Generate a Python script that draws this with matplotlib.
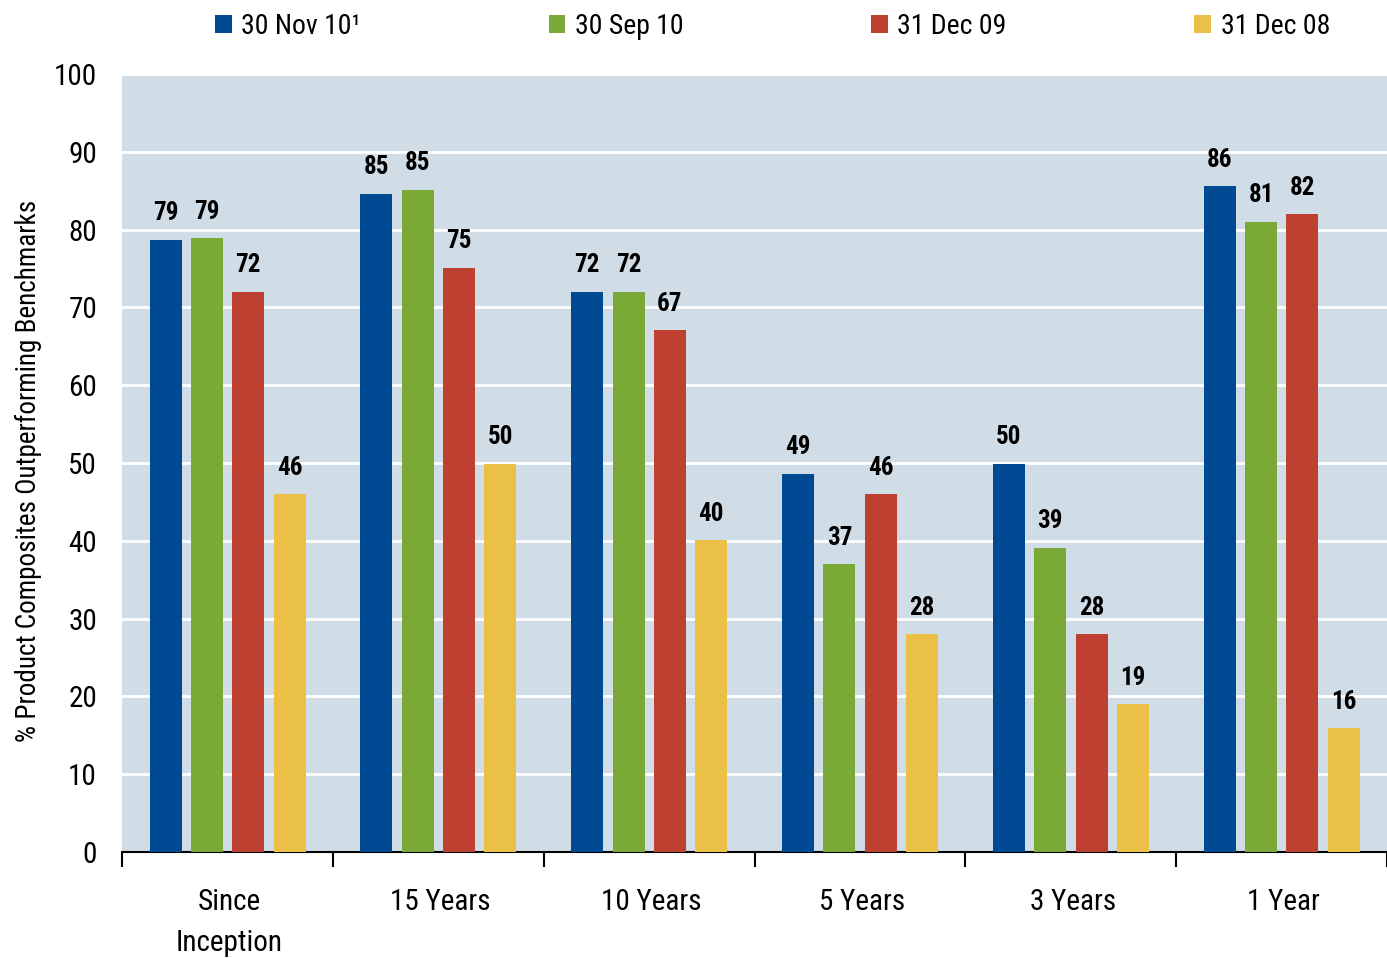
import matplotlib.pyplot as plt
import numpy as np

plt.rcParams['font.family'] = ['Roboto Condensed', 'Liberation Sans', 'DejaVu Sans']

categories = ['Since\nInception', '15 Years', '10 Years', '5 Years', '3 Years', '1 Year']
series_names = ['30 Nov 10\u00b9', '30 Sep 10', '31 Dec 09', '31 Dec 08']
nov10 = [78.7, 84.6, 72.0, 48.6, 49.9, 85.6]
sep10 = [78.9, 85.1, 72.0, 37.0, 39.1, 81.0]
dec09 = [72.0, 75.1, 67.1, 46.0, 28.0, 82.0]
dec08 = [46.0, 49.9, 40.1, 28.0, 19.0, 15.9]
colors = ['#004A93', '#7AA937', '#BE4030', '#EBC046']

fig = plt.figure(figsize=(13.87, 9.58), dpi=100)
ax = fig.add_axes([122 / 1387, 106 / 958, 1 - 122 / 1387, 778 / 958])
ax.set_facecolor('#D0DDE6')

x = np.arange(len(categories))
width = 0.152
offsets = [0.207, 0.403, 0.599, 0.795]
for vals, name, col, off in zip([nov10, sep10, dec09, dec08], series_names, colors, offsets):
    bars = ax.bar(x + off, vals, width, color=col, label=name, zorder=3)
    for b, v in zip(bars, vals):
        ax.annotate(f'{v:.0f}', (b.get_x() + b.get_width() / 2, v),
                    xytext=(0, 14), textcoords='offset points',
                    ha='center', va='baseline', fontsize=18, fontweight='bold')

ax.set_ylim(0, 100)
ax.set_xlim(0, (1387 - 122) / 214)
ax.set_yticks(range(0, 101, 10))
ax.yaxis.grid(True, color='white', linewidth=2, zorder=1)
ax.tick_params(axis='y', length=0, pad=18, labelsize=21)

ax.set_xticks(range(0, 7))
ax.set_xticklabels([])
ax.tick_params(axis='x', which='major', length=11, width=1.5, direction='out')
ax.set_xticks(x + 0.51, minor=True)
ax.set_xticklabels(categories, minor=True, fontsize=21, linespacing=1.58, va='top')
ax.tick_params(axis='x', which='minor', length=0, pad=26)

for s in ['top', 'right', 'left']:
    ax.spines[s].set_visible(False)
ax.spines['bottom'].set_linewidth(1.5)

ax.set_ylabel('% Product Composites Outperforming Benchmarks', fontsize=19.5)
ax.yaxis.set_label_coords(-0.0632, 0.49)

fig.legend(loc='center left', bbox_to_anchor=(215 / 1387, 1 - 26 / 958), ncol=4, frameon=False,
           fontsize=20, handlelength=0.6, handleheight=0.6, handletextpad=0.35,
           columnspacing=6.75, borderpad=0, borderaxespad=0)

fig.savefig('out.png', dpi=100)
